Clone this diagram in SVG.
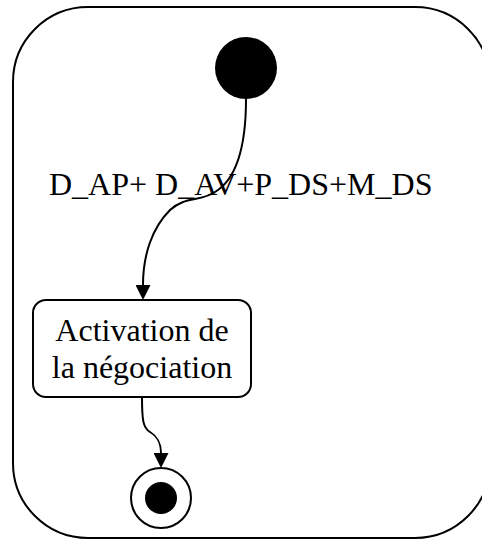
<svg xmlns="http://www.w3.org/2000/svg" width="482" height="539" viewBox="0 0 482 539">
<style>
.frame{fill:none;stroke:#000;stroke-width:2}
.box{fill:#fff;stroke:#000;stroke-width:2}
.edge{fill:none;stroke:#000;stroke-width:2}
.txt{font-family:"Liberation Serif","Times New Roman",serif;font-size:32px;fill:#000}
</style>
<defs>
<marker id="arr" viewBox="0 0 15 15" markerWidth="15" markerHeight="15" markerUnits="userSpaceOnUse" refX="0" refY="7.5" orient="auto">
<path d="M0,0 L15,7.5 L0,15 z" fill="#000"/>
</marker>
</defs>
<rect id="frame" class="frame" x="13" y="7" width="477" height="531" rx="75" ry="75"/>
<g id="connectors">
<path class="edge" d="M246,99 C246,150 235,180 215,192 C200,202 185,196 170,210 C152,228 143,255 143,285" marker-end="url(#arr)"/>
<path class="edge" d="M142,397 C142,420 143,428 150,432 C158,437 161,443 161,453" marker-end="url(#arr)"/>
</g>
<text class="txt" x="49" y="195">D_AP+ D_AV+P_DS+M_DS</text>
<g id="initial">
<circle cx="246" cy="68" r="31" fill="#000"/>
</g>
<g id="activation">
<rect class="box" x="33" y="300" width="218" height="97" rx="13" ry="13"/>
<text class="txt" x="142" y="341" text-anchor="middle">Activation de</text>
<text class="txt" x="142" y="378" text-anchor="middle">la négociation</text>
</g>
<g id="final">
<circle cx="161" cy="498" r="30" fill="#fff" stroke="#000" stroke-width="2"/>
<circle cx="161" cy="498" r="16" fill="#000"/>
</g>
</svg>
